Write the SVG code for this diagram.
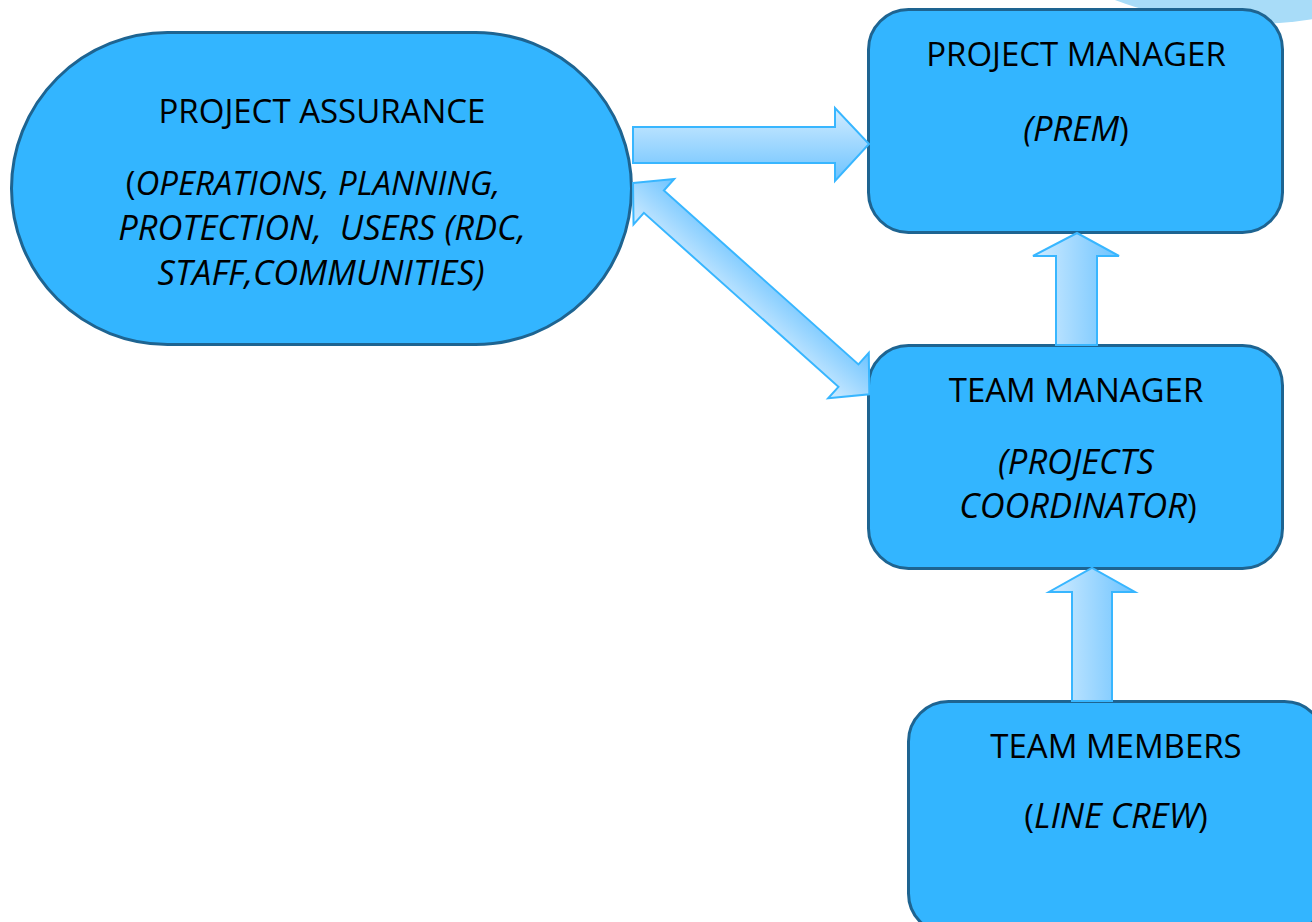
<svg xmlns="http://www.w3.org/2000/svg" width="1312" height="922" viewBox="0 0 1312 922">
  <defs>
    <linearGradient id="gradDown" x1="0" y1="0" x2="0" y2="1">
      <stop offset="0" stop-color="#D2ECFF"/>
      <stop offset="1" stop-color="#6CC3FF"/>
    </linearGradient>
    <linearGradient id="gradRight" x1="0" y1="0" x2="1" y2="0">
      <stop offset="0" stop-color="#D2ECFF"/>
      <stop offset="1" stop-color="#6CC3FF"/>
    </linearGradient>
    <linearGradient id="gradDiag" x1="0" y1="1" x2="0" y2="0">
      <stop offset="0" stop-color="#D2ECFF"/>
      <stop offset="1" stop-color="#6CC3FF"/>
    </linearGradient>
  </defs>
  <style>
    .node { fill: #33B5FF; stroke: #1E6491; stroke-width: 3; }
    .arrow { stroke: #38B6FF; stroke-width: 2; stroke-linejoin: miter; }
    text { font-family: "Open Sans", "Liberation Sans", sans-serif; font-size: 33px; fill: #000; text-anchor: middle; }
    .it { font-style: italic; font-size: 34.5px; }
    .it-sm { font-style: italic; font-size: 33px; }
  </style>

  <rect width="1312" height="922" fill="#FFFFFF"/>

  <!-- pale background shape in the top-right corner -->
  <ellipse cx="1250" cy="-200" rx="300" ry="224" fill="#A8DCF8"/>

  <!-- Project Assurance -->
  <g id="project-assurance">
    <rect class="node" x="11.5" y="32.5" width="620" height="312" rx="156" ry="156"/>
    <text x="322" y="123">PROJECT ASSURANCE</text>
    <text x="313" y="195">(<tspan class="it-sm">OPERATIONS, PLANNING,</tspan></text>
    <text x="322" y="240" class="it" xml:space="preserve">PROTECTION,  USERS (RDC,</text>
    <text x="321" y="285" class="it">STAFF,COMMUNITIES)</text>
  </g>

  <!-- Project Manager -->
  <g id="project-manager">
    <rect class="node" x="868.5" y="9.5" width="414" height="223" rx="40" ry="40"/>
    <text x="1076" y="66">PROJECT MANAGER</text>
    <text x="1076" y="141"><tspan class="it">(PREM</tspan>)</text>
  </g>

  <!-- Team Manager -->
  <g id="team-manager">
    <rect class="node" x="868.5" y="345.5" width="414" height="223" rx="40" ry="40"/>
    <text x="1076" y="402">TEAM MANAGER</text>
    <text x="1076" y="474" class="it">(PROJECTS</text>
    <text x="1078" y="518"><tspan class="it">COORDINATOR</tspan>)</text>
  </g>

  <!-- Team Members -->
  <g id="team-members">
    <rect class="node" x="908.5" y="701.5" width="416" height="232" rx="40" ry="40"/>
    <text x="1116" y="758">TEAM MEMBERS</text>
    <text x="1116" y="828">(<tspan class="it">LINE CREW</tspan>)</text>
  </g>

  <!-- Block arrows between the roles -->
  <g id="connectors">
    <!-- Assurance to Project Manager -->
    <polygon class="arrow" fill="url(#gradDown)"
      points="633,127 835,127 835,108 869,144 835,181 835,163 633,163"/>
    <!-- Assurance and Team Manager, both ways -->
    <g transform="translate(633,183) rotate(41.8)">
      <polygon class="arrow" fill="url(#gradDiag)"
        points="0,0 28,-30.5 28,-15 289,-15 289,-30.5 317,0 289,30.5 289,15 28,15 28,30.5"/>
    </g>
    <!-- Team Manager to Project Manager -->
    <polygon class="arrow" fill="url(#gradRight)"
      points="1056,345 1056,256 1033,256 1077,233 1119,256 1097,256 1097,345"/>
    <!-- Team Members to Team Manager -->
    <polygon class="arrow" fill="url(#gradRight)"
      points="1072,701 1072,592 1049,592 1092,568 1135,592 1112,592 1112,701"/>
  </g>
</svg>
